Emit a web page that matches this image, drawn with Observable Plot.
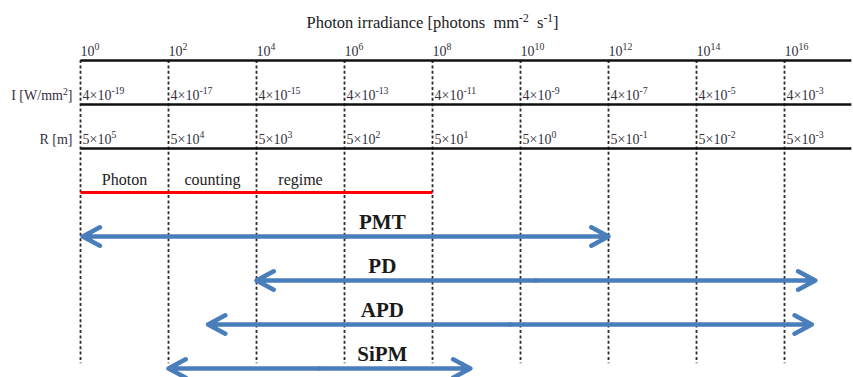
<!DOCTYPE html>
<html>
<head>
<meta charset="utf-8">
<script src="https://cdn.jsdelivr.net/npm/d3@7"></script>
<script src="https://cdn.jsdelivr.net/npm/@observablehq/plot@0.6"></script>
<style>
  html, body { margin: 0; padding: 0; background: #fff; }
</style>
</head>
<body>
<div id="chart"></div>
<script>
// ---- data ----
const title = "Photon irradiance [photons  mm^{-2}  s^{-1}]";
const exponents = [0, 2, 4, 6, 8, 10, 12, 14, 16];   // log10 photon irradiance
const irradianceLabels = ["10^{0}", "10^{2}", "10^{4}", "10^{6}", "10^{8}", "10^{10}", "10^{12}", "10^{14}", "10^{16}"];
const intensityLabels = ["4×10^{-19}", "4×10^{-17}", "4×10^{-15}", "4×10^{-13}", "4×10^{-11}", "4×10^{-9}", "4×10^{-7}", "4×10^{-5}", "4×10^{-3}"];
const distanceLabels = ["5×10^{5}", "5×10^{4}", "5×10^{3}", "5×10^{2}", "5×10^{1}", "5×10^{0}", "5×10^{-1}", "5×10^{-2}", "5×10^{-3}"];
const rowNames = ["I [W/mm^{2}]", "R [m]"];
const regimeWords = ["Photon", "counting", "regime"];
const regimeRange = [0, 8];
const detectors = ["PMT", "PD", "APD", "SiPM"];
const detectorMin = [0.05, 4, 2.9, 2];
const detectorMax = [12, 16.7, 16.62, 8.86];

// ---- derived tables ----
const axisEnd = 17.52;
const axisRows = [0, 1, 2].map(r => ({x1: 0, x2: axisEnd, y: r}));
const topLabels = exponents.map((e, i) => ({x: e, y: 0, text: irradianceLabels[i]}));
const lowerLabels = [];
exponents.forEach((e, i) => {
  lowerLabels.push({x: e, y: 1, text: intensityLabels[i]});
  lowerLabels.push({x: e, y: 2, text: distanceLabels[i]});
});
const rowLabels = rowNames.map((t, i) => ({y: i + 1, text: t}));
const regimeText = regimeWords.map((w, i) => ({x: (exponents[i] + exponents[i + 1]) / 2, y: 3, text: w}));
const arrows = [];
detectors.forEach((d, i) => {
  const mid = (detectorMin[i] + detectorMax[i]) / 2;
  arrows.push({x1: mid, x2: detectorMin[i], y: 4 + i});
  arrows.push({x1: mid, x2: detectorMax[i], y: 4 + i});
});
const detectorText = detectors.map((d, i) => ({x: 6.86, y: 4 + i, text: d}));

const serif = "'Liberation Serif', 'Times New Roman', 'DejaVu Serif', serif";
const labelFill = "#363040";

const chart = Plot.plot({
  width: 853,
  height: 377,
  marginTop: 60,
  marginBottom: 9,
  marginLeft: 80,
  marginRight: 3,
  x: {axis: null, domain: [0, 17.5]},
  y: {axis: null, domain: [0, 7], reverse: true},
  style: {fontFamily: serif, background: "#fff", overflow: "visible"},
  marks: [
    // vertical dashed grid
    Plot.ruleX(exponents, {x: d => d, y1: 0, y2: 6.89, stroke: "#2a2a2a", strokeWidth: 1.8, strokeDasharray: "3,2.4"}),
    // horizontal scale lines
    Plot.link(axisRows, {x1: "x1", x2: "x2", y1: "y", y2: "y", stroke: "#111", strokeWidth: 2.6}),
    // photon counting regime
    Plot.link([regimeRange], {x1: d => d[0], x2: d => d[1], y1: 3, y2: 3, stroke: "#ff0000", strokeWidth: 3}),
    Plot.text(regimeText, {x: "x", y: "y", text: "text", fontSize: 16, dy: -13, fill: "#222"}),
    // detector ranges
    Plot.arrow(arrows, {x1: "x1", x2: "x2", y1: "y", y2: "y", stroke: "#4a7ebb", strokeWidth: 4.5,
      headLength: 6.5, headAngle: 56, strokeLinecap: "round", strokeLinejoin: "round"}),
    Plot.text(detectorText, {x: "x", y: "y", text: "text", fontSize: 21, fontWeight: "bold", dy: -14.5, fill: "#1a1a1a"}),
    // tick labels
    Plot.text(topLabels, {x: "x", y: "y", text: "text", textAnchor: "start", dx: 0, dy: -9, fontSize: 14, fill: labelFill}),
    Plot.text(lowerLabels, {x: "x", y: "y", text: "text", textAnchor: "start", dx: 2, dy: -9, fontSize: 14, fill: labelFill}),
    // row labels
    Plot.text(rowLabels, {x: 0, y: "y", text: "text", textAnchor: "end", dx: -8, dy: -8.5, fontSize: 14, fill: labelFill}),
    // title
    Plot.text([title], {x: 8, y: 0, text: d => d, fontSize: 16.5, dy: -37.3, fill: "#222"})
  ]
});

// superscript markup: "^{...}"
chart.querySelectorAll("text").forEach(t => {
  const s = t.textContent;
  if (!s.includes("^{")) return;
  const holder = t.closest("[font-size]");
  const fs = parseFloat(t.getAttribute("font-size") || (holder && holder.getAttribute("font-size")) || 14);
  const parts = [];
  const re = /\^\{([^}]*)\}/g;
  let last = 0, m;
  while ((m = re.exec(s))) {
    if (m.index > last) parts.push({t: s.slice(last, m.index), sup: false});
    parts.push({t: m[1], sup: true});
    last = re.lastIndex;
  }
  if (last < s.length) parts.push({t: s.slice(last), sup: false});
  while (t.firstChild) t.removeChild(t.firstChild);
  const ns = "http://www.w3.org/2000/svg";
  let raised = false;
  parts.forEach(p => {
    const ts = document.createElementNS(ns, "tspan");
    ts.textContent = p.t;
    if (p.sup) {
      ts.setAttribute("font-size", (fs * 0.7).toFixed(2));
      ts.setAttribute("dy", (-fs * 0.4).toFixed(2));
      raised = true;
    } else if (raised) {
      ts.setAttribute("dy", (fs * 0.4).toFixed(2));
      raised = false;
    }
    t.appendChild(ts);
  });
});

document.getElementById("chart").appendChild(chart);
</script>
</body>
</html>
